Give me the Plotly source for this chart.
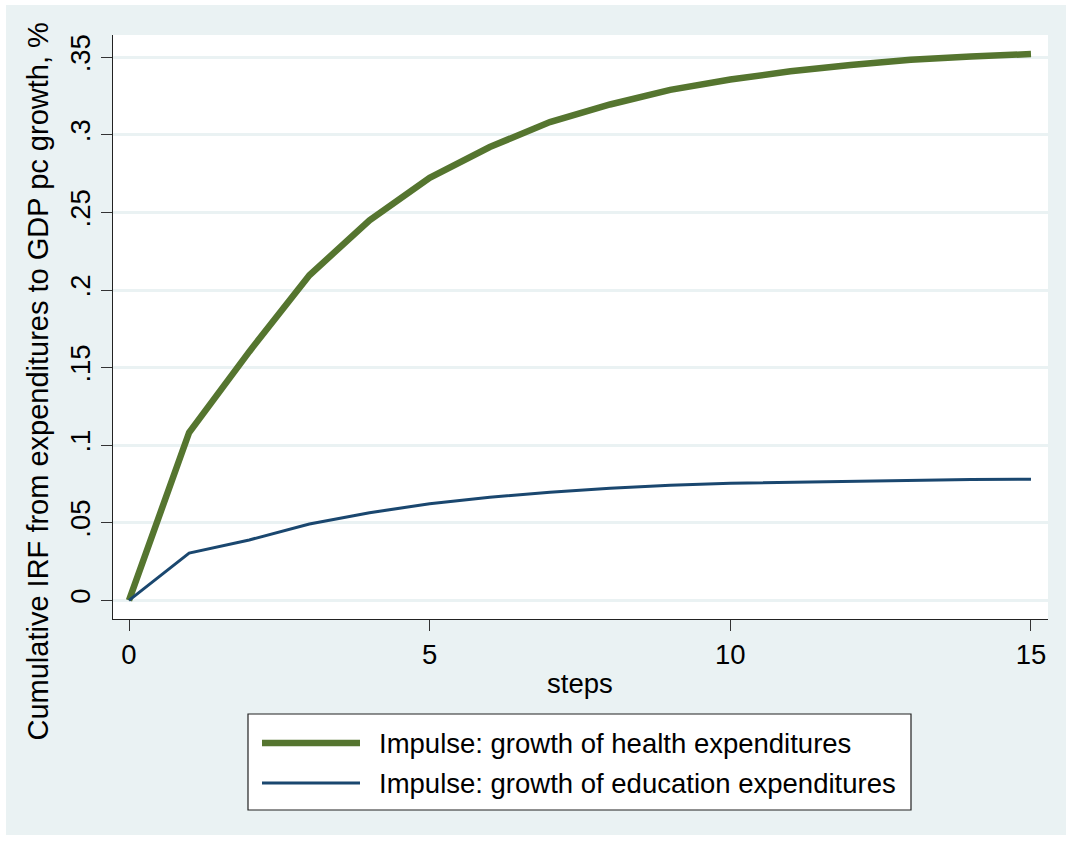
import plotly.graph_objects as go

steps = list(range(16))
health = [0.0, 0.1082, 0.1603, 0.2095, 0.2450, 0.2723, 0.2922, 0.3083, 0.3196,
          0.3290, 0.3357, 0.3410, 0.3450, 0.3485, 0.3505, 0.3521]
education = [0.0, 0.0304, 0.0389, 0.0492, 0.0565, 0.0622, 0.0664, 0.0697, 0.0723,
             0.0742, 0.0755, 0.0762, 0.0769, 0.0775, 0.0779, 0.0780]
y_ticks = [0, 0.05, 0.10, 0.15, 0.20, 0.25, 0.30, 0.35]
y_tick_labels = ["0", ".05", ".1", ".15", ".2", ".25", ".3", ".35"]
x_ticks = [0, 5, 10, 15]
names = ["Impulse: growth of health expenditures",
         "Impulse: growth of education expenditures"]

GREEN = "#55752F"
NAVY = "#1A476F"
BG = "#EAF2F3"
FONT = "Liberation Sans, Arial, sans-serif"

W, H = 1066, 845
L, R, T, B = 113, 1048, 35, 619
pw, ph = R - L, B - T


def px(x):
    return (x - L) / pw


def py(y):
    return (B - y) / ph


fig = go.Figure()
fig.add_trace(go.Scatter(x=steps, y=health, mode="lines", name=names[0],
                         line=dict(color=GREEN, width=6.5), showlegend=False))
fig.add_trace(go.Scatter(x=steps, y=education, mode="lines", name=names[1],
                         line=dict(color=NAVY, width=3), showlegend=False))

shapes = [
    # white strips around the graph region
    dict(type="rect", xref="paper", yref="paper", x0=px(0), x1=px(W), y0=py(0), y1=py(5),
         fillcolor="white", line=dict(width=0), layer="above"),
    dict(type="rect", xref="paper", yref="paper", x0=px(0), x1=px(6), y0=py(0), y1=py(H),
         fillcolor="white", line=dict(width=0), layer="above"),
    dict(type="rect", xref="paper", yref="paper", x0=px(0), x1=px(W), y0=py(835), y1=py(H),
         fillcolor="white", line=dict(width=0), layer="above"),
    # legend box
    dict(type="rect", xref="paper", yref="paper", x0=px(248), x1=px(911), y0=py(714), y1=py(810),
         fillcolor="white", line=dict(color="#222222", width=1.2), layer="above"),
    dict(type="line", xref="paper", yref="paper", x0=px(262), x1=px(360), y0=py(743), y1=py(743),
         line=dict(color=GREEN, width=6.5), layer="above"),
    dict(type="line", xref="paper", yref="paper", x0=px(262), x1=px(360), y0=py(783), y1=py(783),
         line=dict(color=NAVY, width=3), layer="above"),
]

annotations = [
    dict(text="steps", xref="paper", yref="paper", x=px(580), y=py(683),
         xanchor="center", yanchor="middle", showarrow=False,
         font=dict(family=FONT, size=27.5, color="black")),
    dict(text="Cumulative IRF from expenditures to GDP pc growth, %", xref="paper", yref="paper",
         x=px(37), y=py(381.5), xanchor="center", yanchor="middle", textangle=-90,
         showarrow=False, font=dict(family=FONT, size=29, color="black")),
    dict(text=names[0], xref="paper", yref="paper", x=px(377), y=py(743),
         xanchor="left", yanchor="middle", showarrow=False,
         font=dict(family=FONT, size=27.5, color="black")),
    dict(text=names[1], xref="paper", yref="paper", x=px(377), y=py(783),
         xanchor="left", yanchor="middle", showarrow=False,
         font=dict(family=FONT, size=27.5, color="black")),
]

fig.update_layout(
    width=W, height=H,
    margin=dict(l=L, r=W - R, t=T, b=H - B, pad=0),
    paper_bgcolor=BG, plot_bgcolor="white",
    font=dict(family=FONT, size=27.5, color="black"),
    showlegend=False,
    shapes=shapes, annotations=annotations,
    xaxis=dict(range=[-0.266, 15.283], tickvals=x_ticks, showgrid=False, zeroline=False,
               showline=True, linecolor="#222222", linewidth=1.2,
               ticks="outside", ticklen=11, tickwidth=1.2, tickcolor="#333333",
               tickfont=dict(family=FONT, size=27.5, color="black")),
    yaxis=dict(range=[-0.01205, 0.3644], tickvals=y_ticks, ticktext=y_tick_labels,
               showgrid=True, gridcolor=BG, gridwidth=2.5, zeroline=False,
               showline=True, linecolor="#222222", linewidth=1.2,
               ticks="outside", ticklen=11, tickwidth=1.2, tickcolor="#333333",
               tickangle=-90,
               tickfont=dict(family=FONT, size=27.5, color="black")),
)

fig.write_html("out.html",
               config={"displayModeBar": False},
               post_script="document.body.style.margin='0';document.body.style.padding='0';")
